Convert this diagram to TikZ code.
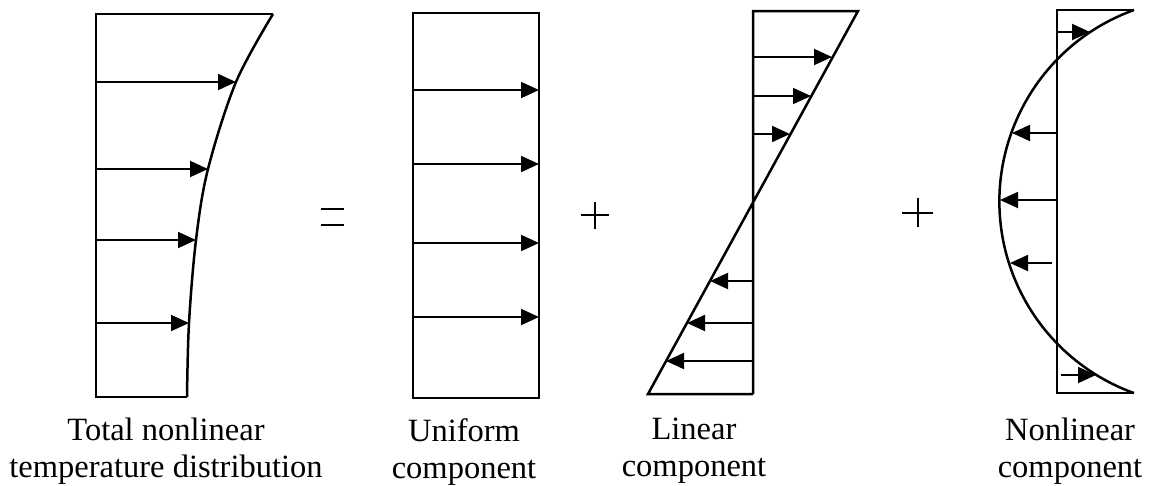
\documentclass[tikz,border=0pt]{standalone}
\usepackage{fontspec}
\setmainfont{Liberation Serif}
\usetikzlibrary{arrows.meta}
\begin{document}
\begin{tikzpicture}[x=1pt,y=-1pt,
  outline/.style={line width=2.5pt,line join=miter},
  arr/.style={line width=1.9pt,-{Triangle[length=18pt,width=16pt]}},
  sign/.style={line width=2.8pt},
  lbl/.style={inner sep=0pt,anchor=north,align=center,font=\fontsize{32.5}{37}\selectfont}]
\useasboundingbox (0,0) rectangle (1164,485);
% ---------- panel 1: total nonlinear ----------
\coordinate (a1) at (96,14);
\coordinate (a2) at (273,14);
\coordinate (a3) at (187,397);
\coordinate (a4) at (96,397);
\draw[outline] (a3) -- (a4) -- (a1) -- (a2);
\draw[outline] plot[smooth,tension=0.55] coordinates {(273,14) (236,82) (208,169) (196,240) (189,323) (187,397)};
\foreach \y/\x [count=\i] in {82/236,169/208,240/196,323/189}{
  \coordinate (ps\i) at (96,\y);
  \coordinate (pt\i) at (\x,\y);
  \draw[arr] (ps\i) -- (pt\i);
}
% ---------- equals ----------
\coordinate (e1) at (321,209); \coordinate (e2) at (344,209);
\coordinate (e3) at (321,225); \coordinate (e4) at (344,225);
\draw[sign] (e1) -- (e2);
\draw[sign] (e3) -- (e4);
% ---------- panel 2: uniform ----------
\coordinate (b1) at (413,13);
\coordinate (b2) at (539,398);
\draw[outline] (b1) rectangle (b2);
\foreach \y [count=\i] in {90,164,243,317}{
  \coordinate (us\i) at (413,\y);
  \coordinate (ut\i) at (539,\y);
  \draw[arr] (us\i) -- (ut\i);
}
% ---------- plus 1 ----------
\coordinate (q1) at (581,215); \coordinate (q2) at (609,215);
\coordinate (q3) at (595,202); \coordinate (q4) at (595,229);
\draw[sign] (q1) -- (q2);
\draw[sign] (q3) -- (q4);
% ---------- panel 3: linear ----------
\coordinate (c1) at (753,11);
\coordinate (c2) at (858,11);
\coordinate (c3) at (648,394);
\coordinate (c4) at (753,394);
\draw[outline] (c4) -- (c1) -- (c2) -- (c3) -- (c4);
\foreach \y/\x [count=\i] in {57/832,96/811,134/790,281/710,323/687,361/666}{
  \coordinate (ls\i) at (753,\y);
  \coordinate (lt\i) at (\x,\y);
  \draw[arr] (ls\i) -- (lt\i);
}
% ---------- plus 2 ----------
\coordinate (r1) at (902,213); \coordinate (r2) at (933,213);
\coordinate (r3) at (918,198); \coordinate (r4) at (918,227);
\draw[sign] (r1) -- (r2);
\draw[sign] (r3) -- (r4);
% ---------- panel 4: nonlinear ----------
\coordinate (d1) at (1057,10);
\coordinate (d2) at (1134,10);
\coordinate (d3) at (1134,393);
\coordinate (d4) at (1057,393);
\draw[outline] (d2) -- (d1) -- (d4) -- (d3);
\draw[outline] (d2) arc[start angle=250.19,end angle=109.81,radius=203.6];
\foreach \ya/\xa/\xb [count=\i] in {32/1057/1090,133/1057/1012,200/1057/1000,263/1052/1010,375/1061/1096}{
  \coordinate (ns\i) at (\xa,\ya);
  \coordinate (nt\i) at (\xb,\ya);
  \draw[arr] (ns\i) -- (nt\i);
}
% ---------- labels ----------
\node[lbl] (t1) at (166,418) {Total nonlinear\\temperature distribution};
\node[lbl] (t2) at (464,418) {Uniform\\component};
\node[lbl] (t3) at (694,418) {Linear\\component};
\node[lbl] (t4) at (1070,418) {Nonlinear\\component};
\end{tikzpicture}
\end{document}
